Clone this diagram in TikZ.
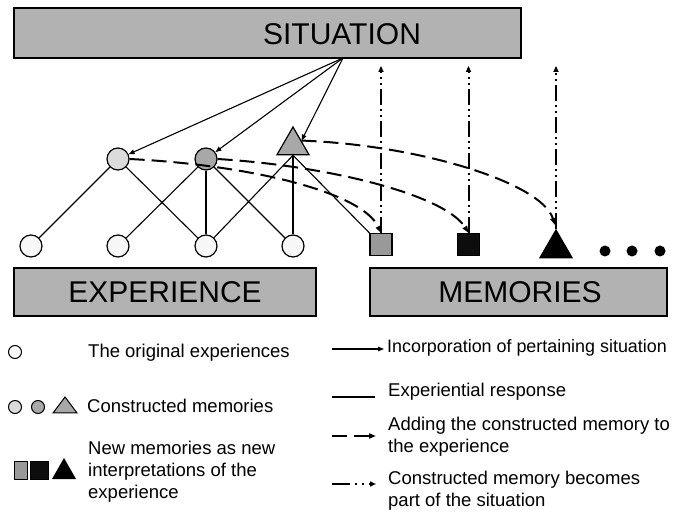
\documentclass[tikz,border=0pt]{standalone}
\usepackage{fontspec}
\setmainfont{Liberation Sans}
\usetikzlibrary{arrows.meta,shapes.geometric}

\definecolor{boxgray}{gray}{0.70}
\definecolor{lightfill}{gray}{0.86}
\definecolor{midfill}{gray}{0.66}
\definecolor{sqgray}{gray}{0.60}
\definecolor{nearblack}{gray}{0.05}
\definecolor{paper}{gray}{0.97}

\begin{document}
\begin{tikzpicture}[x=1pt,y=-1pt,
  banner/.style={rectangle, draw=black, line width=1.8pt, fill=boxgray, inner sep=0pt},
  bannertext/.style={inner sep=0pt, font=\fontsize{30}{36}\selectfont},
  expnode/.style={circle, draw, line width=1.2pt, minimum size=22pt, inner sep=0pt, fill=paper},
  cmem/.style={circle, draw, line width=1.2pt, minimum size=22pt, inner sep=0pt},
  trinode/.style={regular polygon, regular polygon sides=3, draw, line width=1.2pt,
                  minimum size=37pt, inner sep=0pt},
  sqnode/.style={rectangle, draw, line width=1.2pt, minimum size=22pt, inner sep=0pt},
  dotnode/.style={circle, fill=black, minimum size=11pt, inner sep=0pt},
  legtext/.style={anchor=base west, inner sep=0pt, font=\fontsize{18.5}{22}\selectfont},
  resp/.style={line width=1.1pt},
  incorp/.style={line width=1.1pt, -{Triangle[length=6pt,width=4.5pt]}},
  adding/.style={line width=2pt, dash pattern=on 15pt off 7pt, -{Triangle[length=7pt,width=5pt]}},
  becomes/.style={line width=2pt, dash pattern=on 16pt off 4pt on 2pt off 4pt on 2pt off 4pt,
                  -{Triangle[length=6pt,width=5pt]}}
]
\useasboundingbox (0,0) rectangle (673,513);

% --- banners -------------------------------------------------------
\node[banner, minimum width=507pt, minimum height=50pt] (sit) at (267.5,33) {};
\node[bannertext] (sittext) at (342,34) {SITUATION};
\node[banner, minimum width=302pt, minimum height=48pt] (expbox) at (165,292) {};
\node[bannertext] (exptext) at (165,292) {EXPERIENCE};
\node[banner, minimum width=297pt, minimum height=48pt] (membox) at (518.5,292) {};
\node[bannertext] (memtext) at (520,292) {MEMORIES};

\coordinate (src) at (343,58);

% --- constructed memories ------------------------------------------
\node[cmem, fill=lightfill] (c1) at (118,159) {};
\node[cmem, fill=midfill] (c2) at (206,159) {};
\node[trinode, fill=midfill] (tri) at (293,145.5) {};

% --- original experiences ------------------------------------------
\node[expnode] (b1) at (31,246) {};
\node[expnode] (b2) at (118,246) {};
\node[expnode] (b3) at (206,246) {};
\node[expnode] (b4) at (293,246) {};

% --- new memories ---------------------------------------------------
\node[sqnode, fill=sqgray] (sq1) at (381,244.5) {};
\node[sqnode, fill=nearblack] (sq2) at (468.5,244.5) {};
\node[trinode, fill=black] (mtri) at (556,248.5) {};
\node[dotnode] (d1) at (605,251) {};
\node[dotnode] (d2) at (632,251) {};
\node[dotnode] (d3) at (660,251) {};

% --- incorporation of the situation --------------------------------
\draw[incorp] (src) -- (c1);
\draw[incorp] (src) -- (c2);
\draw[incorp] (src) -- (tri.side 3);

% --- experiential responses ----------------------------------------
\draw[resp] (c1) -- (b1);
\draw[resp] (c1) -- (b3);
\draw[resp] (c2) -- (b2);
\draw[resp] (c2) -- (b3);
\draw[resp] (c2) -- (b4);
\draw[resp] (tri.south) -- (b3);
\draw[resp] (tri.south) -- (b4);
\draw[resp] (tri.south) -- (sq1.north west);

% --- constructed memory added to the experience --------------------
\draw[adding] (c1.east) .. controls (250,165) and (362,192) .. (sq1.north);
\draw[adding] (c2.east) .. controls (330,166) and (445,195) .. (sq2.north);
\draw[adding, shorten >=4pt] (tri.side 3) .. controls (420,145) and (542,183) .. (mtri.corner 1);

% --- memory becomes part of the situation --------------------------
\draw[becomes, shorten >=7pt] (sq1.north) -- (sq1.north |- sit.south);
\draw[becomes, shorten >=7pt] (sq2.north) -- (sq2.north |- sit.south);
\draw[becomes, shorten >=7pt] (mtri.corner 1) -- (mtri.corner 1 |- sit.south);

% --- legend: symbols -------------------------------------------------
\node[circle, draw, line width=1pt, fill=paper, minimum size=13pt, inner sep=0pt] (lo) at (15,352) {};
\node[legtext] (lt1) at (88,358) {The original experiences};

\node[circle, draw, line width=1pt, fill=lightfill, minimum size=13pt, inner sep=0pt] (lc1) at (15,407) {};
\node[circle, draw, line width=1pt, fill=midfill, minimum size=13pt, inner sep=0pt] (lc2) at (38,407) {};
\filldraw[fill=midfill, line width=1pt] (53,413) -- (77,413) -- (65,397) -- cycle;
\node[legtext] (lt2) at (87,413) {Constructed memories};

\filldraw[fill=sqgray, line width=1pt] (14,462) rectangle (27,479);
\filldraw[fill=nearblack, line width=1pt] (30,462) rectangle (48,479);
\fill[black] (52,479) -- (76,479) -- (64,458) -- cycle;
\node[legtext] (lt3a) at (88,454) {New memories as new};
\node[legtext] (lt3b) at (88,476) {interpretations of the};
\node[legtext] (lt3c) at (88,498) {experience};

% --- legend: connectors ----------------------------------------------
\coordinate (a1) at (332,349); \coordinate (a2) at (384,349);
\draw[incorp] (a1) -- (a2);
\node[legtext, font=\fontsize{17.9}{22}\selectfont] (rt1) at (387,353) {Incorporation of pertaining situation};

\coordinate (r1) at (332,397); \coordinate (r2) at (375,397);
\draw[resp] (r1) -- (r2);
\node[legtext] (rt2) at (388,397) {Experiential response};

\coordinate (e1) at (332,436); \coordinate (e2) at (376,436);
\draw[adding] (e1) -- (e2);
\node[legtext] (rt3a) at (388,431) {Adding the constructed memory to};
\node[legtext] (rt3b) at (388,453) {the experience};

\coordinate (m1) at (332,484); \coordinate (m2) at (376,484);
\draw[becomes, dash pattern=on 18pt off 5pt on 2pt off 5pt on 2pt off 5pt] (m1) -- (m2);
\node[legtext] (rt4a) at (388,485) {Constructed memory becomes};
\node[legtext] (rt4b) at (388,507) {part of the situation};
\end{tikzpicture}
\end{document}
